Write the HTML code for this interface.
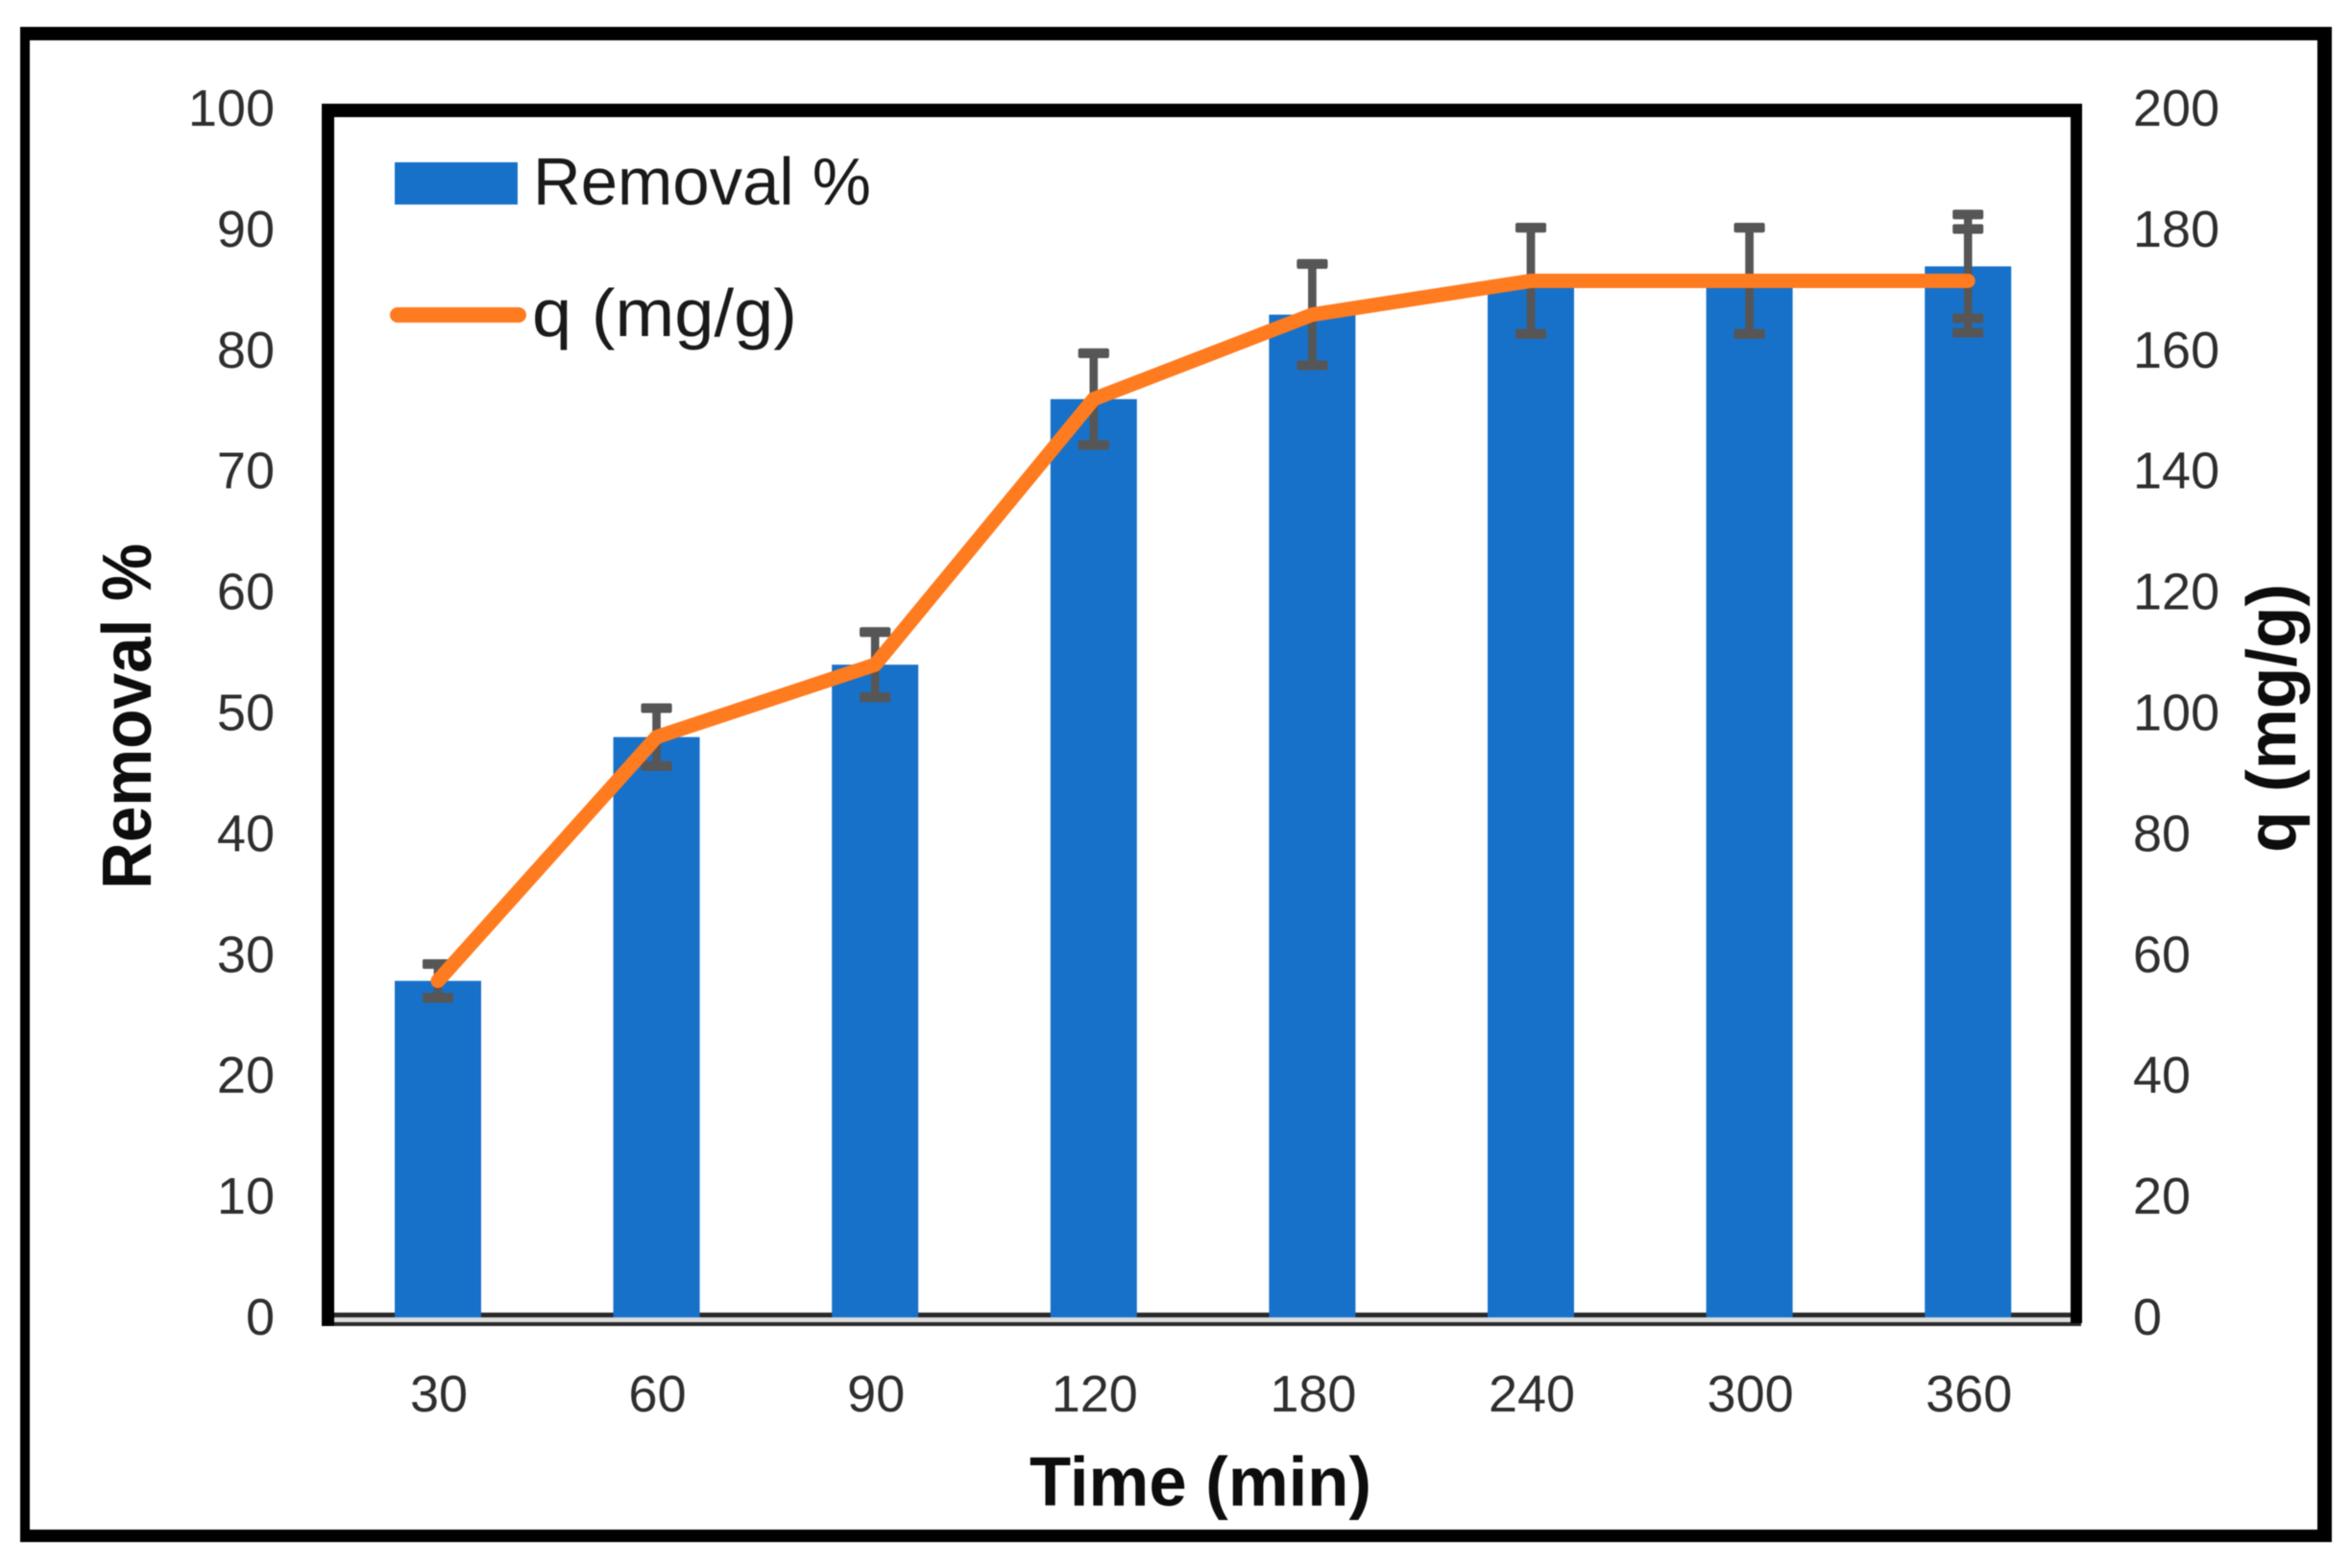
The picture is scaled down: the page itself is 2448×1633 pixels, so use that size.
<!DOCTYPE html>
<html lang="en">
<head>
<meta charset="utf-8">
<title>Removal % and q (mg/g) over time</title>
<style>
  html, body { margin: 0; padding: 0; background: #ffffff; }
  svg { display: block; filter: blur(0.6px); }
  text { font-family: "Liberation Sans", sans-serif; }
  .tick { font-size: 54px; fill: #2e2e2e; }
  .title { font-size: 72px; font-weight: 700; fill: #0d0d0d; }
  .legend { font-size: 70px; fill: #1a1a1a; }
</style>
</head>
<body>
<svg id="chart" xmlns="http://www.w3.org/2000/svg" width="2448" height="1633" viewBox="0 0 2448 1633">
  <rect x="0" y="0" width="2448" height="1633" fill="#ffffff"/>
  <g fill="#000000">
    <rect x="21" y="28" width="2407" height="14"/>
    <rect x="21" y="1593" width="2407" height="13"/>
    <rect x="21" y="28" width="10" height="1578"/>
    <rect x="2413" y="28" width="15" height="1578"/>
  </g>
  <g id="plot-frame">
    <rect x="335" y="1372" width="1830" height="5" fill="#dcdcdc"/>
    <rect x="335" y="1367" width="1830" height="5" fill="#2a2a2a"/>
    <rect x="335" y="1377" width="1832" height="4" fill="#2a2a2a"/>
    <rect x="335" y="108" width="1833" height="14" fill="#000000"/>
    <rect x="335" y="108" width="13" height="1273" fill="#000000"/>
    <rect x="2156" y="108" width="12" height="1270" fill="#000000"/>
  </g>
  <g id="bars"></g>
  <g id="errors"></g>
  <polyline id="q-line" fill="none" stroke="#ff7b1f" stroke-width="15" stroke-linecap="round" stroke-linejoin="round"></polyline>
  <g id="left-ticks"></g>
  <g id="right-ticks"></g>
  <g id="x-ticks"></g>

  <text class="title" transform="translate(157,746) rotate(-90)" text-anchor="middle" textLength="360" lengthAdjust="spacingAndGlyphs">Removal %</text>
  <text class="title" transform="translate(2390,748) rotate(-90)" text-anchor="middle" textLength="280" lengthAdjust="spacingAndGlyphs">q (mg/g)</text>
  <text class="title" x="1250" y="1568" text-anchor="middle" textLength="356" lengthAdjust="spacingAndGlyphs">Time (min)</text>

  <g>
    <rect x="411" y="169" width="128" height="44" fill="#1771c9"/>
    <text class="legend" x="555" y="213" textLength="352" lengthAdjust="spacingAndGlyphs">Removal %</text>
    <line x1="414" y1="328" x2="540" y2="328" stroke="#ff7b1f" stroke-width="16" stroke-linecap="round"/>
    <text class="legend" x="554" y="350" textLength="276" lengthAdjust="spacingAndGlyphs">q (mg/g)</text>
  </g>
</svg>
<script>
const categories = ["30", "60", "90", "120", "180", "240", "300", "360"];
const removal = [27.8, 48, 54, 76, 83, 85.8, 85.8, 87];
const q = [55.6, 96, 108, 152, 166, 171.6, 171.6, 171.6];
const removalErr = [1.4, 2.4, 2.7, 3.8, 4.2, 4.4, 4.4, 4.3];
const qErr = [2.8, 4.8, 5.4, 7.6, 8.4, 8.8, 8.8, 8.6];
const leftTickLabels = [0, 10, 20, 30, 40, 50, 60, 70, 80, 90, 100];
const rightTickLabels = [0, 20, 40, 60, 80, 100, 120, 140, 160, 180, 200];

const NS = "http://www.w3.org/2000/svg";
const plotBase = 1371;
const plotTop = 114;
const firstX = 456;
const stepX = 227.6;
const barWidth = 90;
const capWidth = 32;
const labelDrop = 19;
const labelTopShift = 2;

function xCat(i) { return firstX + i * stepX; }
function yLeft(v) { return plotBase - (v / 100) * (plotBase - plotTop); }
function yRight(v) { return plotBase - (v / 200) * (plotBase - plotTop); }

function make(tag, attrs, parent) {
  const node = document.createElementNS(NS, tag);
  for (const key in attrs) node.setAttribute(key, attrs[key]);
  parent.appendChild(node);
  return node;
}

const barsGroup = document.getElementById("bars");
categories.forEach(function (cat, i) {
  const top = yLeft(removal[i]);
  const el = make("rect", { x: xCat(i) - barWidth / 2, y: top, width: barWidth, height: plotBase + 1 - top, fill: "#1771c9" }, barsGroup);
  
  
});

const errorsGroup = document.getElementById("errors");
function drawError(cx, yHigh, yLow, label) {
  const g = make("g", { fill: "#565656" }, errorsGroup);
  
  
  make("rect", { x: cx - 4.25, y: yHigh, width: 8.5, height: yLow - yHigh }, g);
  make("rect", { x: cx - capWidth / 2, y: yHigh - 5, width: capWidth, height: 10, rx: 2 }, g);
  make("rect", { x: cx - capWidth / 2, y: yLow - 5, width: capWidth, height: 10, rx: 2 }, g);
}
categories.forEach(function (cat, i) {
  drawError(xCat(i), yLeft(removal[i] + removalErr[i]), yLeft(removal[i] - removalErr[i]), 'removal-error-' + cat);
  drawError(xCat(i), yRight(q[i] + qErr[i]), yRight(q[i] - qErr[i]), 'q-error-' + cat);
});

document.getElementById("q-line").setAttribute("points", q.map(function (v, i) {
  return xCat(i) + "," + yRight(v);
}).join(" "));

const leftGroup = document.getElementById("left-ticks");
leftTickLabels.forEach(function (v) {
  const el = make("text", { class: "tick", x: 286, y: yLeft(v) + labelDrop - labelTopShift * v / 100, "text-anchor": "end" }, leftGroup);
  el.textContent = String(v);
  
  
});

const rightGroup = document.getElementById("right-ticks");
rightTickLabels.forEach(function (v) {
  const el = make("text", { class: "tick", x: 2221, y: yRight(v) + labelDrop - labelTopShift * v / 200, "text-anchor": "start" }, rightGroup);
  el.textContent = String(v);
  
  
});

const xGroup = document.getElementById("x-ticks");
categories.forEach(function (cat, i) {
  const el = make("text", { class: "tick", x: xCat(i) + 1, y: 1470, "text-anchor": "middle" }, xGroup);
  el.textContent = cat;
  
  
});
</script>
</body>
</html>
